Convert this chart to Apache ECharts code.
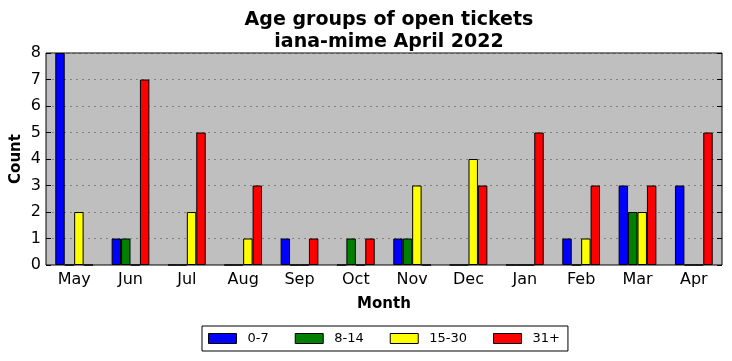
<!DOCTYPE html>
<html><head><meta charset="utf-8">
<script src="https://cdn.jsdelivr.net/npm/echarts@6/dist/echarts.min.js"></script>
<style>html,body{margin:0;padding:0;background:#fff}#c{width:732px;height:361px}</style>
</head><body><div id="c"></div>
<script>
const months = ['May','Jun','Jul','Aug','Sep','Oct','Nov','Dec','Jan','Feb','Mar','Apr'];
const age0_7   = [8,1,0,0,1,0,1,0,0,1,3,3];
const age8_14  = [0,1,0,0,0,1,1,0,0,0,2,0];
const age15_30 = [2,0,2,1,0,0,3,4,0,1,2,0];
const age31p   = [0,7,5,3,1,1,0,3,5,3,3,5];
const yTicks = [0,1,2,3,4,5,6,7,8];

const F = 'DejaVu Sans';
const names = ['0-7','8-14','15-30','31+'];
const colors = ['#0000ff','#008000','#ffff00','#ff0000'];
const datas = [age0_7, age8_14, age15_30, age31p];

const chart = echarts.init(document.getElementById('c'));
chart.setOption({
  animation:false,
  title:{text:'Age groups of open tickets\niana-mime April 2022', left:384, textAlign:'center', top:4,
    textStyle:{fontFamily:F, fontSize:19, fontWeight:'bold', color:'#000', lineHeight:22}},
  grid:{left:46,right:10,top:53,bottom:96,containLabel:false,outerBoundsMode:'none',show:true,backgroundColor:'#bfbfbf',borderColor:'#000',borderWidth:1},
  legend:{left:202, top:326, padding:[6,8,6,6], borderColor:'#000', borderWidth:1, itemWidth:28, itemHeight:10, itemGap:26, icon:'rect',
    textStyle:{fontFamily:F,fontSize:13,color:'#000',padding:[0,0,0,6]},
    data:names.map((n,i)=>({name:n,itemStyle:{color:colors[i],borderColor:'#000',borderWidth:1}}))},
  xAxis:[{type:'category',data:months,position:'bottom',name:'Month',nameLocation:'middle',nameGap:32,nameMoveOverlap:false,
    nameTextStyle:{fontFamily:F,fontSize:15,fontWeight:'bold',color:'#000'},
    axisLine:{show:false},axisTick:{inside:true,alignWithLabel:true,length:5,lineStyle:{color:'#000'}},
    axisLabel:{fontFamily:F,fontSize:16,color:'#000',margin:7}},
   {type:'category',data:months,position:'top',axisLine:{show:false},axisTick:{inside:true,alignWithLabel:true,length:5,lineStyle:{color:'#000'}},axisLabel:{show:false}}],
  yAxis:[{type:'value',min:0,max:8,interval:1,name:'Count',nameLocation:'middle',nameGap:22,nameMoveOverlap:false,
    nameTextStyle:{fontFamily:F,fontSize:15,fontWeight:'bold',color:'#000'},
    axisLine:{show:false},axisTick:{show:true,inside:true,length:5,lineStyle:{color:'#000'}},
    axisLabel:{fontFamily:F,fontSize:16,color:'#000',margin:5,formatter:v=>yTicks.includes(v)?String(v):''},
    splitLine:{show:true,lineStyle:{color:'#808080',type:[2,4],width:1}}},
   {type:'value',min:0,max:8,interval:1,position:'right',axisLine:{show:false},axisTick:{show:true,inside:true,length:5,lineStyle:{color:'#000'}},axisLabel:{show:false},splitLine:{show:false}}],
  series:datas.map((d,i)=>({name:names[i],type:'bar',data:d,barGap:'0%',barCategoryGap:'33%',
    itemStyle:{color:colors[i],borderColor:'#000',borderWidth:1}}))
});
</script></body></html>
